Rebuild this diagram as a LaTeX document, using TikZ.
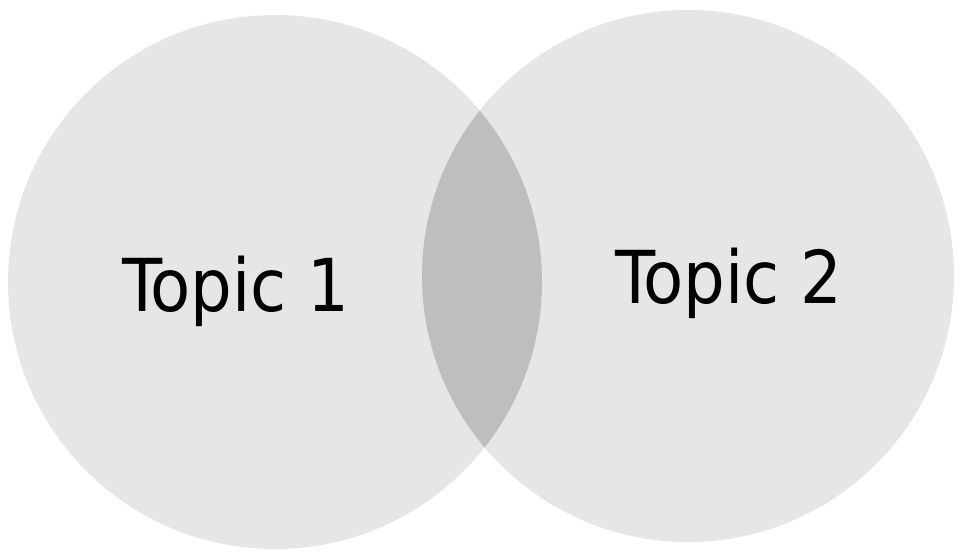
\documentclass[tikz,border=0pt]{standalone}
\usepackage{fontspec}
\setmainfont{DejaVu Sans Condensed}
\usepackage{tikz}
\usetikzlibrary{positioning}
\definecolor{grain}{RGB}{230,230,230}
\definecolor{lens}{RGB}{190,190,190}

\begin{document}
\begin{tikzpicture}[x=1pt,y=-1pt,
  venn/.style={circle,fill=grain,inner sep=0pt},
  topic/.style={font=\fontsize{73}{80}\selectfont,anchor=base,inner sep=0pt}]
  \useasboundingbox (0,0) rectangle (959,551);

  % ---------- the two topic circles ----------
  \node[venn,minimum size=534pt] (lc) at (275,282) {};
  \node[venn,minimum size=532pt] (rc) at (688,276) {};

  % ---------- shared part ----------
  \begin{scope}
    \clip (lc.center) circle (267);
    \fill[lens] (rc.center) circle (266);
  \end{scope}

  % ---------- labels ----------
  \node[topic] (t1) at (236,311) {Topic 1};
  \node[topic] (t2) at (729,303) {Topic 2};
\end{tikzpicture}
\end{document}
